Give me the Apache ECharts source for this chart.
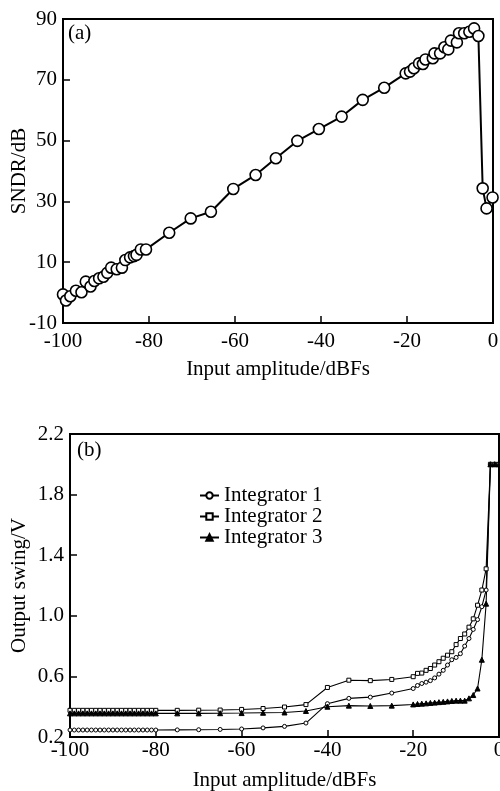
<!DOCTYPE html>
<html>
<head>
<meta charset="utf-8">
<script src="https://cdn.jsdelivr.net/npm/echarts@6/dist/echarts.min.js"></script>
<style>
html,body{margin:0;padding:0;background:#fff;}
#chart{width:500px;height:791px;}
</style>
</head>
<body>
<div id="chart"></div>
<script>
// ---- Panel (a): SNDR vs input amplitude ----
var sndrX = [-100, -99.3, -98.3, -97, -95.7, -94.7, -93.6, -92.7, -91.6, -90.6,
  -89.7, -88.8, -87.5, -86.3, -85.5, -84.4, -83.5, -82.9, -81.9, -80.7,
  -75.3, -70.3, -65.6, -60.4, -55.2, -50.5, -45.5, -40.5, -35.2, -30.3,
  -25.3, -20.3, -19.3, -18.4, -17.2, -16.3, -15.7, -14, -13.6, -12.3,
  -11.3, -10.4, -9.8, -8.4, -7.9, -6.7, -5.5, -4.4, -3.4, -2.4, -1.5, -0.1];
var sndrY = [-0.6, -2.6, -1.2, 0.6, 0.1, 3.6, 2, 3.8, 4.7, 5.2,
  6.5, 8.2, 7.7, 8.2, 10.7, 11.6, 12, 12.4, 14.2, 14.2,
  19.7, 24.4, 26.6, 34.1, 38.7, 44.2, 49.9, 53.8, 57.9, 63.4,
  67.4, 72.1, 72.7, 73.8, 75.4, 75.2, 76.7, 77.1, 78.7, 78.7,
  80.7, 80, 82.9, 82.3, 85.3, 85.3, 85.8, 86.9, 84.4, 34.3, 27.7, 31.3];
var sndrXTicks = [-100, -80, -60, -40, -20, 0];
var sndrYTicks = [-10, 10, 30, 50, 70, 90];

// ---- Panel (b): output swing vs input amplitude ----
var swingX = [-100, -99, -98, -97, -96, -95, -94, -93, -92, -91, -90, -89, -88, -87, -86, -85, -84, -83, -82, -81, -80,
  -75, -70, -65, -60, -55, -50, -45, -40, -35, -30, -25, -20,
  -19, -18, -17, -16, -15, -14, -13, -12, -11, -10, -9, -8, -7, -6, -5, -4, -3, -2, -1, 0];
var integrator1 = [0.246, 0.246, 0.246, 0.246, 0.246, 0.246, 0.246, 0.246, 0.246, 0.246, 0.246, 0.246, 0.246, 0.246, 0.246, 0.246, 0.246, 0.246, 0.246, 0.246, 0.246,
  0.247, 0.248, 0.25, 0.253, 0.26, 0.27, 0.292, 0.42, 0.455, 0.463, 0.49, 0.52,
  0.54, 0.553, 0.562, 0.572, 0.59, 0.615, 0.64, 0.675, 0.71, 0.725, 0.75, 0.8, 0.85, 0.91, 0.975, 1.06, 1.17, 2.0, 2.0, 2.0];
var integrator2 = [0.376, 0.376, 0.376, 0.376, 0.376, 0.376, 0.376, 0.376, 0.376, 0.376, 0.376, 0.376, 0.376, 0.376, 0.376, 0.376, 0.376, 0.376, 0.376, 0.376, 0.376,
  0.376, 0.377, 0.378, 0.382, 0.388, 0.398, 0.414, 0.527, 0.575, 0.572, 0.58, 0.598,
  0.62, 0.622, 0.64, 0.652, 0.675, 0.697, 0.72, 0.74, 0.763, 0.81, 0.85, 0.88, 0.925, 0.98, 1.07, 1.17, 1.31, 2.0, 2.0, 2.0];
var integrator3 = [0.356, 0.356, 0.356, 0.356, 0.356, 0.356, 0.356, 0.356, 0.356, 0.356, 0.356, 0.356, 0.356, 0.356, 0.356, 0.356, 0.356, 0.356, 0.356, 0.356, 0.356,
  0.356, 0.356, 0.357, 0.358, 0.36, 0.362, 0.372, 0.4, 0.407, 0.405, 0.407, 0.415,
  0.418, 0.42, 0.422, 0.425, 0.427, 0.43, 0.432, 0.435, 0.438, 0.44, 0.44, 0.44, 0.455, 0.477, 0.52, 0.71, 1.08, 2.0, 2.0, 2.0];
var seriesNames = ['Integrator 1', 'Integrator 2', 'Integrator 3'];
var swingXTicks = [-100, -80, -60, -40, -20, 0];
var swingYTicks = [0.2, 0.6, 1.0, 1.4, 1.8, 2.2];

function pairs(xs, ys) { return xs.map(function (x, i) { return [x, ys[i]]; }); }

var FONT = "'Liberation Serif', 'DejaVu Serif', serif";
var axisText = { color: '#000', fontFamily: FONT, fontSize: 21 };

function xAxisDef(gridIndex, ticks, labelMargin, nameGap) {
  return {
    type: 'value', gridIndex: gridIndex, min: -100, max: 0, interval: 20,
    name: 'Input amplitude/dBFs', nameLocation: 'middle', nameGap: nameGap, nameMoveOverlap: false,
    nameTextStyle: axisText,
    axisLine: { show: true, onZero: false, lineStyle: { color: '#000', width: 2 } },
    axisTick: { show: true, inside: true, length: 7, customValues: ticks, lineStyle: { color: '#000', width: 1.5 } },
    axisLabel: Object.assign({ margin: labelMargin, customValues: ticks, showMinLabel: true, showMaxLabel: true, hideOverlap: false }, axisText),
    splitLine: { show: false }
  };
}
function yAxisDef(gridIndex, min, max, interval, ticks, name, nameGap, fmt) {
  return {
    type: 'value', gridIndex: gridIndex, min: min, max: max, interval: interval,
    name: name, nameLocation: 'middle', nameGap: nameGap, nameRotate: 90, nameMoveOverlap: false,
    nameTextStyle: axisText,
    axisLine: { show: true, onZero: false, lineStyle: { color: '#000', width: 2 } },
    axisTick: { show: true, inside: true, length: 7, customValues: ticks, lineStyle: { color: '#000', width: 1.5 } },
    axisLabel: Object.assign({ margin: 6, customValues: ticks, formatter: fmt }, axisText),
    splitLine: { show: false }
  };
}

var chart = echarts.init(document.getElementById('chart'), null, { renderer: 'canvas' });
var symbols = ['circle', 'rect', 'triangle'];
var fills = ['#fff', '#fff', '#000'];
var swingData = [integrator1, integrator2, integrator3];

var option = {
  backgroundColor: '#fff',
  animation: false,
  grid: [
    { left: 63, top: 19, width: 430, height: 304, show: true, borderColor: '#000', borderWidth: 2, backgroundColor: 'transparent', containLabel: false, outerBoundsMode: 'none' },
    { left: 70, top: 434, width: 429, height: 303, show: true, borderColor: '#000', borderWidth: 2, backgroundColor: 'transparent', containLabel: false, outerBoundsMode: 'none' }
  ],
  xAxis: [
    xAxisDef(0, sndrXTicks, 8, 36),
    xAxisDef(1, swingXTicks, 3, 33)
  ],
  yAxis: [
    yAxisDef(0, -10, 90, 10, sndrYTicks, 'SNDR/dB', 33, function (v) { return String(v); }),
    yAxisDef(1, 0.2, 2.2, 0.2, swingYTicks, 'Output swing/V', 40, function (v) { return v.toFixed(1); })
  ],
  legend: {
    show: true, orient: 'vertical', left: 194, top: 480,
    itemWidth: 19, itemHeight: 8, itemGap: 0,
    textStyle: { color: '#000', fontFamily: FONT, fontSize: 21, lineHeight: 20.5 },
    data: seriesNames
  },
  graphic: [
    { type: 'text', left: 68, top: 23, style: { text: '(a)', fill: '#000', font: '21px ' + FONT } },
    { type: 'text', left: 77, top: 440, style: { text: '(b)', fill: '#000', font: '21px ' + FONT } }
  ],
  series: [
    {
      type: 'line', xAxisIndex: 0, yAxisIndex: 0, name: 'SNDR',
      data: pairs(sndrX, sndrY),
      symbol: 'circle', symbolSize: 11,
      lineStyle: { color: '#000', width: 2 },
      itemStyle: { color: '#fff', borderColor: '#000', borderWidth: 1.6 }
    }
  ].concat(seriesNames.map(function (nm, k) {
    return {
      type: 'line', xAxisIndex: 1, yAxisIndex: 1, name: nm,
      data: pairs(swingX, swingData[k]),
      symbol: symbols[k], symbolSize: k === 2 ? 5 : 4,
      lineStyle: { color: '#000', width: 1.1 },
      itemStyle: { color: fills[k], borderColor: '#000', borderWidth: 1 }
    };
  }))
};
chart.setOption(option);
</script>
</body>
</html>
